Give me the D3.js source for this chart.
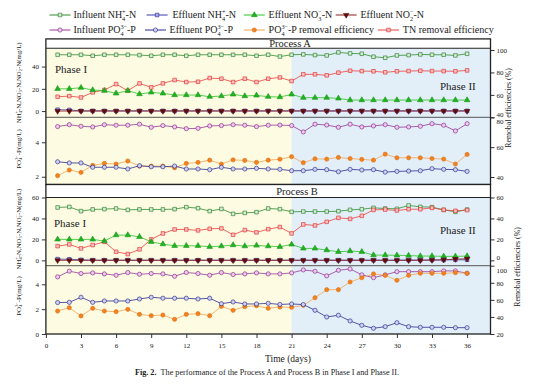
<!DOCTYPE html>
<html><head><meta charset="utf-8">
<script src="https://cdn.jsdelivr.net/npm/d3@7"></script>
<style>body{margin:0;background:#fff}svg{display:block}svg text{font-family:'Liberation Serif','DejaVu Serif','Noto Serif',serif !important;fill:#222}</style>
</head><body><svg id="c" width="554" height="392"></svg>
<script>
// ---------------- data ----------------
const days=[1,2,3,4,5,6,7,8,9,10,11,12,13,14,15,16,17,18,19,20,21,22,23,24,25,26,27,28,29,30,31,32,33,34,35,36];
const xTicks=[0,3,6,9,12,15,18,21,24,27,30,33,36];
const phaseBoundary=21;

// Process A
const A_infNH4=[50.6,50.6,50.6,49.7,50.6,50.6,50.6,50.3,49.7,50.6,50.6,49.7,50.6,50.6,50.6,50.6,50.6,49.7,50.6,49.0,50.6,50.9,50.3,50.0,52.7,51.8,51.5,48.8,47.9,50.0,50.3,50.9,50.6,50.6,50.0,51.5];
const A_effNH4=[1.2,1.0,0.2,0.2,0.2,0.2,0.2,0.2,0.2,0.2,0.2,0.2,0.2,0.2,0.2,0.2,0.2,0.2,0.2,0.2,0.2,0.2,0.2,0.2,0.2,0.2,0.2,0.2,0.2,0.2,0.2,0.2,0.2,0.2,0.2,0.2];
const A_effNO3=[20.0,20.0,21.0,18.9,18.3,15.9,18.3,15.3,16.8,15.9,14.4,14.4,14.4,12.9,13.5,15.0,13.5,14.1,12.9,12.6,15.0,12.0,12.0,12.0,11.4,9.9,9.9,9.9,9.9,9.9,9.9,9.9,9.9,9.9,9.9,9.9];
const A_effNO2=[0,0,0,0,0,0,0,0,0,0,0,0,0,0,0,0,0,0,0,0,0,0,0,0,0,0,0,0,0,0,0,0,0,0,0,0];
const A_TNrem=[58.3,58.9,57.7,62.2,64.3,69.6,63.7,70.2,66.7,70.2,73.2,71.4,71.7,75.0,74.4,71.4,74.4,71.4,74.4,75.5,72.3,78.3,78.3,77.4,79.8,81.5,81.2,81.0,80.1,81.0,81.2,81.5,81.2,81.2,81.0,81.8];
const A_infPO4=[4.91,5.02,4.93,4.89,5.02,4.99,4.99,5.05,4.87,4.97,4.89,4.79,4.81,4.95,4.97,5.02,4.99,4.91,4.99,5.0,4.97,4.6,5.05,5.0,4.87,5.05,4.89,4.95,5.02,4.87,4.89,4.93,5.08,4.99,4.66,5.08];
const A_effPO4=[2.87,2.8,2.8,2.55,2.55,2.55,2.45,2.64,2.58,2.58,2.62,2.45,2.45,2.41,2.55,2.45,2.45,2.49,2.45,2.43,2.35,2.35,2.43,2.41,2.29,2.43,2.39,2.41,2.27,2.31,2.33,2.35,2.47,2.43,2.41,2.31];
const A_PO4rem=[40.9,44.7,43.1,47.8,49.1,48.7,50.7,47.3,47.3,47.3,46.2,49.1,49.8,51.3,48.7,51.5,51.1,49.8,51.3,51.9,53.6,49.6,52.2,52.0,53.1,52.4,51.8,51.3,55.3,52.9,52.9,52.9,52.4,52.0,48.7,55.1];

// Process B
const B_infNH4=[50.5,51.0,47.0,48.6,48.9,49.5,48.2,48.6,48.6,48.6,48.9,50.8,49.8,47.0,49.1,44.4,45.3,46.0,49.5,48.9,46.3,46.6,46.6,46.6,46.9,48.2,48.8,50.1,49.5,49.2,52.4,51.1,50.8,48.2,46.3,48.5];
const B_effNH4=[1.2,1.0,0.5,0.2,0.2,0.2,0.2,0.2,0.2,0.2,0.2,0.2,0.2,0.2,0.2,0.2,0.2,0.2,0.2,0.2,0.2,0.2,0.2,0.2,0.2,0.2,0.2,0.2,0.2,0.2,0.3,0.3,0.4,0.4,0.5,0.5];
const B_effNO3=[20.0,20.0,20.0,20.0,18.4,24.1,24.1,22.5,17.7,15.5,13.9,13.9,13.9,13.0,13.6,14.6,13.6,14.2,13.6,13.0,15.2,11.4,11.4,9.8,8.2,8.9,8.2,5.0,5.0,4.8,4.6,4.1,4.1,3.8,3.8,4.1];
const B_effNO2=[0,0,0,0,0,0,0,0,0,0,0,0,0,0,0,0,0,0,0,0,0,0,0,0,0,0,0,0,0,0,0,0,0.2,0.5,1.2,1.5];
const B_TNrem=[13.6,15.2,11.4,14.6,17.7,8.2,6.0,10.5,20.0,25.7,29.5,29.5,28.6,30.1,30.5,24.4,28.9,26.7,29.8,31.8,25.7,34.3,33.3,36.8,40.6,39.6,42.5,48.2,48.5,47.6,48.8,48.8,50.1,48.2,47.3,47.9];
const B_infPO4=[4.6,5.06,4.87,4.92,4.84,4.73,4.95,4.81,4.87,4.84,4.65,4.95,4.87,4.73,4.95,4.79,4.84,4.92,4.84,4.84,4.92,5.16,5.05,4.68,5.13,5.24,4.76,4.54,4.76,5.02,5.02,5.02,5.02,5.08,5.08,4.89];
const B_effPO4=[2.53,2.55,2.96,2.55,2.66,2.66,2.66,2.82,2.96,2.88,2.88,2.88,2.82,2.88,2.44,2.58,2.42,2.42,2.47,2.38,2.42,2.37,1.91,1.37,1.51,1.05,0.7,0.46,0.59,0.91,0.59,0.54,0.54,0.54,0.51,0.51];
const B_PO4rem=[46.9,50.8,41.1,50.1,46.9,46.1,48.9,43.0,41.4,42.2,37.2,43.0,43.8,41.4,52.4,47.7,52.0,53.1,50.1,51.6,51.2,53.6,62.5,71.9,71.9,80.9,85.9,90.3,88.7,82.9,88.7,91.1,91.1,91.1,91.8,91.1];

// ---------------- styles ----------------
const FONT="'Liberation Serif','DejaVu Serif','Noto Serif',serif";
const ST={
  infNH4:{line:"#2f8f2f",fill:"#d4eed4",stroke:"#1f701f",sym:"square",size:13},
  effNH4:{line:"#3b3bb4",fill:"#a8a8ea",stroke:"#25258f",sym:"square",size:13},
  effNO3:{line:"#2bc42b",fill:"#22b022",stroke:"#1c9a1c",sym:"tri",size:14},
  effNO2:{line:"#8b1c1c",fill:"#5e0c0c",stroke:"#5e0c0c",sym:"triDown",size:13},
  infPO4:{line:"#9a3a9a",fill:"#efc8ef",stroke:"#7a1f7a",sym:"circle",size:14},
  effPO4:{line:"#2d2d90",fill:"#cdd0f4",stroke:"#22227c",sym:"circle",size:14},
  PO4rem:{line:"#f5a455",fill:"#f08222",stroke:"#e07012",sym:"circle",size:14},
  TNrem:{line:"#ee4040",fill:"#fac0c0",stroke:"#e02222",sym:"square",size:13}
};
const SYM={square:d3.symbolSquare,tri:d3.symbolTriangle,triDown:d3.symbolTriangle,circle:d3.symbolCircle};

const svg=d3.select('#c').attr('font-family',FONT);
svg.append('rect').attr('width',554).attr('height',392).attr('fill','#fff');
const x=d3.scaleLinear().domain([0,38]).range([45.9,490.5]);
const L=x(0),R=x(38);

function rich(t,parts,fs){
  let cur=0;
  parts.forEach(p=>{
    if(p[1]==='n'){
      t.append('tspan').attr('dy',-cur).attr('font-size',fs).text(p[0]);cur=0;
    } else {
      const sfs=fs*0.62, sub=p[0], sup=p[2];
      const dSub=fs*0.28, dSup=-fs*0.42;
      t.append('tspan').attr('dy',dSub-cur).attr('font-size',sfs).text(sub);
      const w=sfs*0.5*sub.length;
      t.append('tspan').attr('dx',-w).attr('dy',dSup-dSub).attr('font-size',sfs).text(sup);
      cur=dSup;
    }
  });
}
const NLABEL=[["NH","n"],["4","s","+"],["-N,NO","n"],["3","s","\u2212"],["-N,NO","n"],["2","s","\u2212"],["-N(mg/L)","n"]];
const PLABEL=[["PO","n"],["4","s","3\u2212"],["-P(mg/L)","n"]];

const panels=[
 {name:"Process A",top:38.9,tb:48.3,split:117.3,bottom:184.5,titleX:290,
  p1:[55,69],p2:[440,86],rtitle:[508,108],
  up:{L:[-5.6,56.4],Lt:[0,20,40],R:[40,101.5],Rt:[40,60,80,100],
      s:[[A_infNH4,"infNH4","L"],[A_TNrem,"TNrem","R"],[A_effNO3,"effNO3","L"],[A_effNH4,"effNH4","L"],[A_effNO2,"effNO2","L"]]},
  lo:{L:[1.55,5.45],Lt:[2,4],R:[35,80],Rt:[40,60,80],
      s:[[A_infPO4,"infPO4","L"],[A_PO4rem,"PO4rem","R"],[A_effPO4,"effPO4","L"]]},
  ltitle1:82.8,ltitle2:149},
 {name:"Process B",top:184.5,tb:197.5,split:265.7,bottom:334,titleX:297,
  p1:[54,223],p2:[440,230],rtitle:[517,267],
  up:{L:[-5.1,60],Lt:[0,20,40,60],R:[-5.1,60],Rt:[0,20,40,60],
      s:[[B_infNH4,"infNH4","L"],[B_TNrem,"TNrem","R"],[B_effNO3,"effNO3","L"],[B_effNH4,"effNH4","L"],[B_effNO2,"effNO2","L"]]},
  lo:{L:[0,5.5],Lt:[0,2,4],R:[20,100],Rt:[20,40,60,80,100],
      s:[[B_infPO4,"infPO4","L"],[B_PO4rem,"PO4rem","R"],[B_effPO4,"effPO4","L"]]},
  ltitle1:229,ltitle2:296}
];

function drawSeries(g,data,key,y){
  const st=ST[key];
  const line=d3.line().x((d,i)=>x(days[i])).y(d=>y(d));
  g.append('path').datum(data).attr('d',line).attr('fill','none').attr('stroke',st.line).attr('stroke-width',0.8);
  const sym=d3.symbol().type(SYM[st.sym]).size(st.size);
  g.selectAll(null).data(data).enter().append('path')
    .attr('d',sym)
    .attr('transform',(d,i)=>`translate(${x(days[i])},${y(d)})`+(st.sym==='triDown'?' rotate(180)':''))
    .attr('fill',st.fill).attr('stroke',st.stroke).attr('stroke-width',0.6);
}

function styleAxis(a){
  a.attr('font-family',FONT);
  a.select('.domain').remove();
  a.selectAll('line').attr('stroke','#333');
  a.selectAll('text').attr('font-size',7).attr('fill','#333');
}
function axes(g,yL,yR,Lt,Rt,rShift){
  const al=g.append('g').attr('transform',`translate(${L},0)`).call(d3.axisLeft(yL).tickValues(Lt).tickSize(4).tickPadding(3).tickFormat(d3.format('d')));
  const ar=g.append('g').attr('transform',`translate(${R},0)`).call(d3.axisRight(yR).tickValues(Rt).tickSize(4).tickPadding(2).tickFormat(d3.format('d')));
  styleAxis(al);styleAxis(ar);
  if(rShift) ar.selectAll('.tick text').attr('dy',d=>rShift[d]!==undefined?rShift[d]:'0.32em');
}

panels.forEach((P,pi)=>{
  const g=svg.append('g');
  g.append('rect').attr('x',L).attr('y',P.tb).attr('width',x(phaseBoundary)-L).attr('height',P.bottom-P.tb).attr('fill','#fdfbe2');
  g.append('rect').attr('x',x(phaseBoundary)).attr('y',P.tb).attr('width',R-x(phaseBoundary)).attr('height',P.bottom-P.tb).attr('fill','#e2eff8');
  g.append('rect').attr('x',L).attr('y',P.top).attr('width',R-L).attr('height',P.tb-P.top).attr('fill','#fff');
  g.append('text').attr('x',P.titleX).attr('y',(P.top+P.tb)/2).attr('dy','0.35em').attr('text-anchor','middle').attr('font-size',10.5).text(P.name);
  g.append('text').attr('x',P.p1[0]).attr('y',P.p1[1]).attr('dy','0.35em').attr('font-size',11).text("Phase I");
  g.append('text').attr('x',P.p2[0]).attr('y',P.p2[1]).attr('dy','0.35em').attr('font-size',11).text("Phase II");

  const yL1=d3.scaleLinear().domain(P.up.L).range([P.split,P.tb]);
  const yR1=d3.scaleLinear().domain(P.up.R).range([P.split,P.tb]);
  const yL2=d3.scaleLinear().domain(P.lo.L).range([P.bottom,P.split]);
  const yR2=d3.scaleLinear().domain(P.lo.R).range([P.bottom,P.split]);
  P.up.s.forEach(s=>drawSeries(g,s[0],s[1],s[2]==='L'?yL1:yR1));
  P.lo.s.forEach(s=>drawSeries(g,s[0],s[1],s[2]==='L'?yL2:yR2));
  const upLow=P.up.Rt[0], loHigh=P.lo.Rt[P.lo.Rt.length-1];
  axes(g,yL1,yR1,P.up.Lt,P.up.Rt,{[upLow]:'-0.15em'});
  axes(g,yL2,yR2,P.lo.Lt,P.lo.Rt,{[loHigh]:'0.95em'});

  g.append('line').attr('x1',L).attr('x2',R).attr('y1',P.tb).attr('y2',P.tb).attr('stroke','#222').attr('stroke-width',1.1);
  g.append('line').attr('x1',L).attr('x2',R).attr('y1',P.split).attr('y2',P.split).attr('stroke','#555').attr('stroke-width',1);
  g.append('rect').attr('x',L).attr('y',P.top).attr('width',R-L).attr('height',P.bottom-P.top).attr('fill','none').attr('stroke','#222').attr('stroke-width',1.3);

  const t1=g.append('text').attr('transform',`translate(20.5,${P.ltitle1}) rotate(-90)`).attr('text-anchor','middle').attr('fill','#333');
  rich(t1,NLABEL,6.8);
  const t2=g.append('text').attr('transform',`translate(20.5,${P.ltitle2}) rotate(-90)`).attr('text-anchor','middle').attr('fill','#333');
  rich(t2,PLABEL,7);
  g.append('text').attr('transform',`translate(${P.rtitle[0]},${P.rtitle[1]}) rotate(-90)`).attr('text-anchor','middle').attr('dy','0.35em')
   .attr('font-size',7.8).attr('fill','#333').text("Remobal efficiencies (%)");
});

const ax=svg.append('g').attr('transform','translate(0,334)').call(d3.axisBottom(x).tickValues(xTicks).tickSize(4).tickPadding(5));
styleAxis(ax);
svg.append('text').attr('x',288).attr('y',359).attr('dy','0.35em').attr('text-anchor','middle').attr('font-size',9.5).text("Time (days)");

const cap=svg.append('text').attr('x',267).attr('y',372).attr('dy','0.35em').attr('text-anchor','middle').attr('font-size',8.2);
cap.append('tspan').attr('font-weight','bold').text("Fig. 2.");
cap.append('tspan').text("\u2002The performance of the Process A and Process B in Phase I and Phase II.");

const legend=[
 {k:"infNH4",lx:49.5,tx:73.5,y:15,parts:[["Influent NH","n"],["4","s","+"],["-N","n"]]},
 {k:"effNH4",lx:146.6,tx:172.4,y:15,parts:[["Effluent NH","n"],["4","s","+"],["-N","n"]]},
 {k:"effNO3",lx:243.8,tx:268.6,y:15,parts:[["Effluent NO","n"],["3","s","\u2212"],["-N","n"]]},
 {k:"effNO2",lx:335.7,tx:360.4,y:15,parts:[["Effluent NO","n"],["2","s","\u2212"],["-N","n"]]},
 {k:"infPO4",lx:49.5,tx:73.5,y:30,parts:[["Influent PO","n"],["4","s","3\u2212"],["-P","n"]]},
 {k:"effPO4",lx:145,tx:169.6,y:30,parts:[["Effluent PO","n"],["4","s","3\u2212"],["-P","n"]]},
 {k:"PO4rem",lx:243.8,tx:268.6,y:30,parts:[["PO","n"],["4","s","3\u2212"],["-P removal efficiency","n"]]},
 {k:"TNrem",lx:378,tx:402.8,y:30,parts:[["TN removal efficiency","n"]]}
];
legend.forEach(it=>{
  const st=ST[it.k];
  svg.append('line').attr('x1',it.lx).attr('x2',it.lx+21).attr('y1',it.y).attr('y2',it.y).attr('stroke',st.line).attr('stroke-width',1);
  svg.append('path').attr('d',d3.symbol().type(SYM[st.sym]).size(st.size)())
    .attr('transform',`translate(${it.lx+10.5},${it.y})`+(st.sym==='triDown'?' rotate(180)':''))
    .attr('fill',st.fill).attr('stroke',st.stroke).attr('stroke-width',0.6);
  const t=svg.append('text').attr('x',it.tx).attr('y',it.y+3.3);
  rich(t,it.parts,10);
});
</script>
</body></html>
